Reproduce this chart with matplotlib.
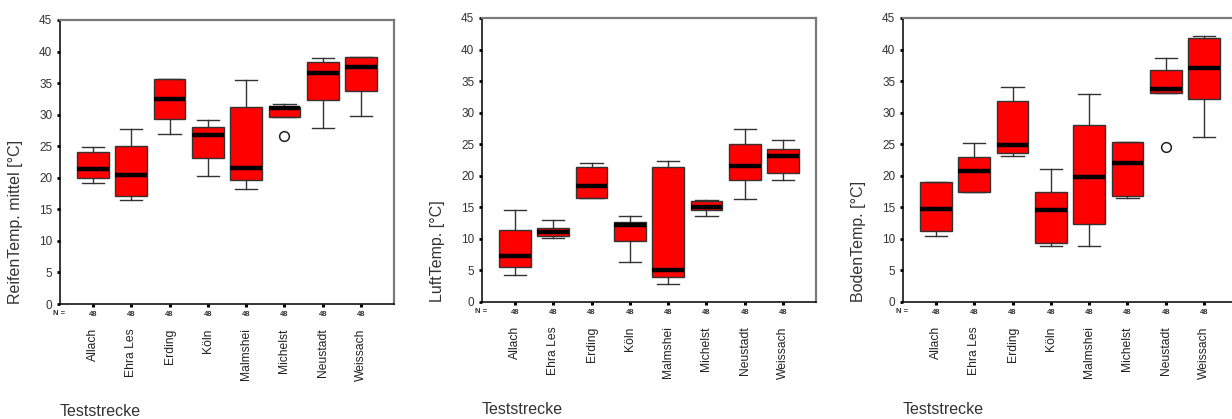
import matplotlib
matplotlib.use("Agg")
import matplotlib.pyplot as plt

plt.rcParams["font.family"] = ["Liberation Sans", "DejaVu Sans"]

# Teststrecken (categories) and sample counts
strecken = ["Allach", "Ehra Les", "Erding", "Köln", "Malmshei", "Michelst", "Neustadt", "Weissach"]
n_counts = [48, 48, 48, 48, 48, 48, 48, 48]

# ReifenTemp. mittel [°C]
reifen_lo = [19.2, 16.4, 26.9, 20.3, 18.2, 29.6, 27.9, 29.8]
reifen_q1 = [20.0, 17.1, 29.3, 23.1, 19.6, 29.6, 32.3, 33.8]
reifen_med = [21.4, 20.5, 32.5, 26.8, 21.6, 31.0, 36.6, 37.5]
reifen_q3 = [24.1, 25.0, 35.6, 28.0, 31.2, 31.2, 38.4, 39.1]
reifen_hi = [24.8, 27.7, 35.7, 29.1, 35.5, 31.7, 38.9, 39.1]
reifen_out = [[], [], [], [], [], [26.6], [], []]

# LuftTemp. [°C]
luft_lo = [4.2, 10.2, 16.4, 6.4, 2.8, 13.55, 16.25, 19.4]
luft_q1 = [5.56, 10.5, 16.4, 9.6, 3.9, 14.5, 19.3, 20.4]
luft_med = [7.25, 11.1, 18.4, 12.2, 5.0, 15.1, 21.5, 23.1]
luft_q3 = [11.4, 11.75, 21.4, 12.7, 21.4, 16.0, 25.0, 24.3]
luft_hi = [14.6, 13.0, 22.1, 13.55, 22.3, 16.1, 27.4, 25.6]
luft_out = [[], [], [], [], [], [], [], []]

# BodenTemp. [°C]
boden_lo = [10.5, 17.5, 23.2, 8.9, 8.9, 16.5, 33.1, 26.15]
boden_q1 = [11.3, 17.5, 23.6, 9.4, 12.3, 16.8, 33.1, 32.2]
boden_med = [14.8, 20.75, 24.8, 14.5, 19.85, 22.0, 33.8, 37.05]
boden_q3 = [18.95, 22.9, 31.8, 17.5, 28.1, 25.4, 36.8, 41.8]
boden_hi = [19.06, 25.2, 34.0, 21.1, 33.0, 25.4, 38.6, 42.2]
boden_out = [[], [], [], [], [], [], [24.5], []]

panels = [
    ("ReifenTemp. mittel [°C]", reifen_lo, reifen_q1, reifen_med, reifen_q3, reifen_hi, reifen_out, 60, 304),
    ("LuftTemp. [°C]", luft_lo, luft_q1, luft_med, luft_q3, luft_hi, luft_out, 482, 302),
    ("BodenTemp. [°C]", boden_lo, boden_q1, boden_med, boden_q3, boden_hi, boden_out, 903, 302),
]

W, H = 1232, 419
fig = plt.figure(figsize=(W / 100, H / 100), dpi=100)

for ylabel, lo, q1, med, q3, hi, out, left_px, bottom_px in panels:
    ax = fig.add_axes([left_px / W, (H - bottom_px) / H, 334 / W, 284 / H])
    stats = []
    for i, name in enumerate(strecken):
        stats.append({"whislo": lo[i], "q1": q1[i], "med": med[i], "q3": q3[i],
                      "whishi": hi[i], "fliers": out[i], "label": name})
    pos = list(range(1, len(strecken) + 1))
    ax.bxp(stats, positions=pos, widths=0.83, capwidths=0.58, patch_artist=True,
           manage_ticks=False,
           boxprops=dict(facecolor="#ff0000", edgecolor="#333333", linewidth=1.0),
           medianprops=dict(color="black", linewidth=3.2, solid_capstyle="butt"),
           whiskerprops=dict(color="#333333", linewidth=1.0),
           capprops=dict(color="#333333", linewidth=1.0),
           flierprops=dict(marker="o", markersize=7, markerfacecolor="white",
                           markeredgecolor="#222222", markeredgewidth=1.1))

    ax.set_xlim(0.14, 8.86)
    ax.set_ylim(0, 45)
    ax.set_yticks(range(0, 46, 5))
    ax.tick_params(axis="y", direction="out", length=2.5, width=2, color="black",
                   labelsize=8.5, labelcolor="#333333", pad=3)
    ax.set_xticks(pos)
    ax.set_xticklabels([str(n) for n in n_counts], fontweight="bold")
    ax.tick_params(axis="x", direction="out", length=2, width=2.2, color="black",
                   labelsize=5.5, labelcolor="#333333", pad=3)

    for s in ("left", "bottom"):
        ax.spines[s].set_color("black")
        ax.spines[s].set_linewidth(1.1)
    for s in ("top", "right"):
        ax.spines[s].set_color("#7a7a7a")
        ax.spines[s].set_linewidth(1.6)

    ax.text(-0.021, -0.035, "N =", transform=ax.transAxes, fontsize=5.5,
            fontweight="bold", color="#333333", ha="left", va="center")
    for p, name in zip(pos, strecken):
        ax.text(p, -0.085, name, transform=ax.get_xaxis_transform(), rotation=90,
                ha="center", va="top", fontsize=8.7, color="#222222")

    ax.text(-0.132, 0.0, ylabel, transform=ax.transAxes, rotation=90,
            ha="center", va="bottom", fontsize=11.5, color="#333333")
    ax.text(0.0, -0.38, "Teststrecke", transform=ax.transAxes,
            ha="left", va="center", fontsize=11.5, color="#333333")

fig.savefig("out.png", dpi=100)
